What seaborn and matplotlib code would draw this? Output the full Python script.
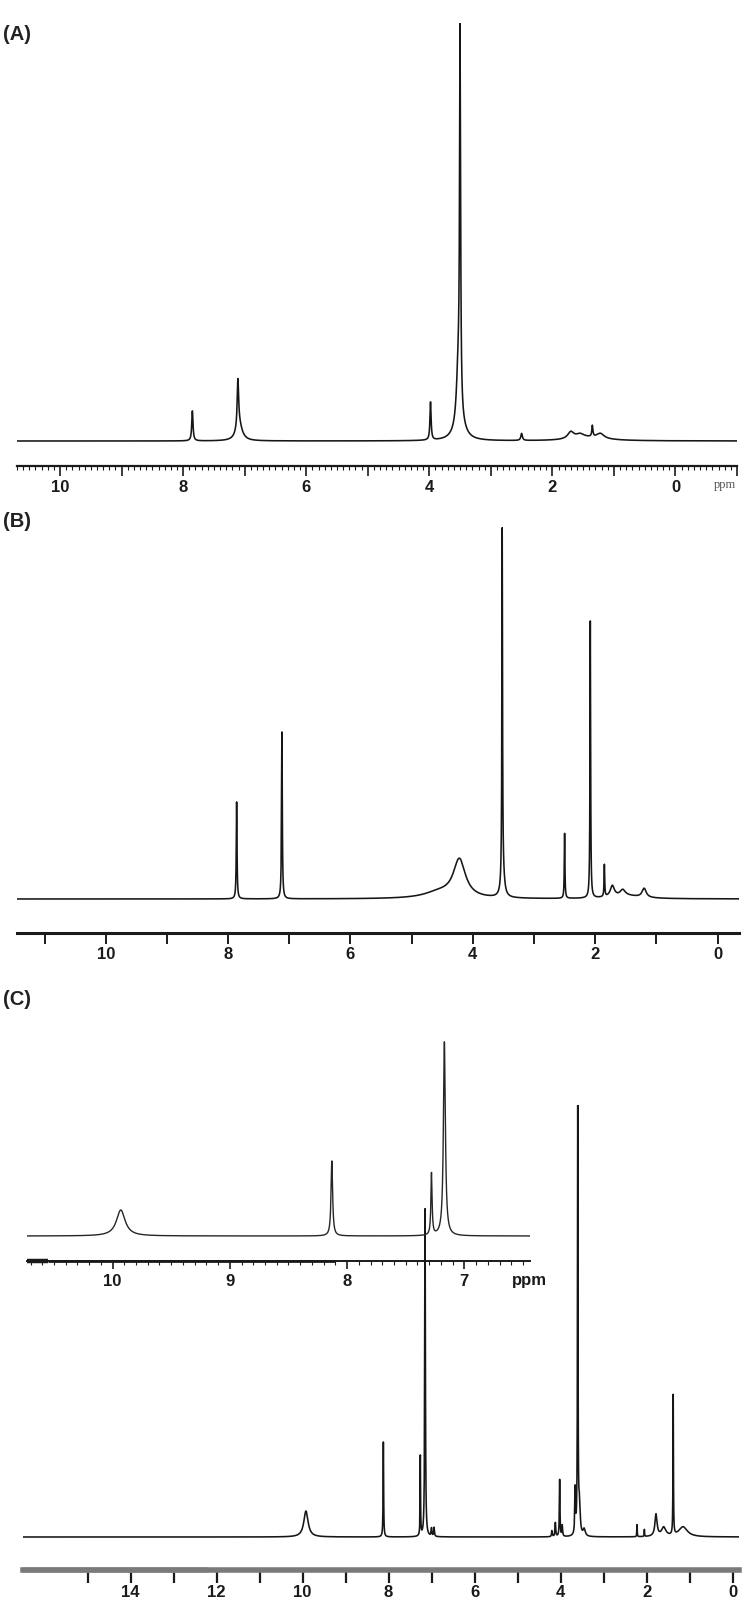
import numpy as np
import matplotlib
matplotlib.use('Agg')
import matplotlib.pyplot as plt
import seaborn as sns
from matplotlib.ticker import MultipleLocator, FixedLocator, FuncFormatter

sns.set_theme(style="white")
plt.rcParams['font.family'] = ['Liberation Sans', 'DejaVu Sans']

W, H = 744, 1620

# peak tables: shift (ppm), height above baseline, half width (ppm)
a_ppm = [7.85, 7.11, 7.09, 3.98, 3.50, 3.53, 3.50, 2.50, 1.70, 1.55, 1.35, 1.22, 1.40]
a_height = [30, 48, 16, 38, 372, 55, 14, 7, 7, 4, 11, 5, 3]
a_width = [0.012, 0.014, 0.06, 0.011, 0.010, 0.035, 0.10, 0.015, 0.06, 0.08, 0.010, 0.07, 0.35]

b_ppm = [7.86, 7.12, 4.22, 4.55, 3.52, 3.51, 2.50, 2.08, 1.85, 1.72, 1.55, 1.20, 1.50]
b_height = [97, 167, 38, 6, 349, 23, 65, 277, 32, 11, 6, 9, 3]
b_width = [0.007, 0.007, 0.12, 0.30, 0.006, 0.03, 0.006, 0.006, 0.006, 0.04, 0.05, 0.04, 0.30]

c_ppm = [9.92, 8.12, 7.26, 7.15, 7.00, 6.94, 4.20, 4.12, 4.02, 3.96, 3.66, 3.60,
         3.56, 3.45, 2.22, 2.05, 1.78, 1.60, 1.38, 1.15]
c_height = [26, 95, 80, 328, 8, 9, 6, 14, 57, 11, 45, 430, 30, 7, 12, 7, 22, 9, 140, 10]
c_width = [0.06, 0.007, 0.006, 0.009, 0.01, 0.01, 0.01, 0.01, 0.008, 0.01, 0.01, 0.007,
           0.02, 0.03, 0.005, 0.005, 0.03, 0.06, 0.006, 0.12]

inset_ppm = [9.93, 8.13, 7.28, 7.17]
inset_height = [26, 75, 62, 194]
inset_width = [0.045, 0.008, 0.006, 0.010]

a_lim = (10.7, -1.0)
b_lim = (11.45, -0.35)
c_lim = (16.5, -0.15)
inset_lim = (10.73, 6.44)
c_ticks = list(range(0, 16))


def spectrum(lim, ppm, height, width, n=24000):
    x = np.linspace(lim[1], lim[0], n)
    y = np.zeros_like(x)
    for p, h, w in zip(ppm, height, width):
        y += h / (1 + ((x - p) / w) ** 2)
    return x, y


def add_panel(fig, box, lim, ppm, height, width, lw=1.15, color='#161616'):
    # box: left, right, top, baseline, axis line (pixels from top-left)
    x0, x1, ytop, ybase, yaxis = box
    ax = fig.add_axes([x0 / W, 1 - yaxis / H, (x1 - x0) / W, (yaxis - ytop) / H])
    ax.patch.set_visible(False)
    x, y = spectrum(lim, ppm, height, width)
    sns.lineplot(x=x, y=y, ax=ax, color=color, linewidth=lw, estimator=None, sort=False)
    ax.set_xlim(*lim)
    ax.set_ylim(-(yaxis - ybase), ybase - ytop)
    for s in ['left', 'right', 'top']:
        ax.spines[s].set_visible(False)
    ax.set_yticks([])
    ax.set_xlabel('')
    ax.set_ylabel('')
    return ax


def even_labels(v, pos):
    r = round(v)
    if abs(v - r) < 1e-6 and r % 2 == 0:
        return f"{abs(r) if r == 0 else r}"
    return ''


def bold_ticks(ax, size=12):
    for lab in ax.get_xticklabels():
        lab.set_fontweight('bold')
        lab.set_fontsize(size)
        lab.set_color('#1a1a1a')


fig = plt.figure(figsize=(W / 100, H / 100), dpi=100)

# (A)
ax_a = add_panel(fig, (17, 737, 23, 441, 466), a_lim, a_ppm, a_height, a_width)
ax_a.spines['bottom'].set_linewidth(1.6)
ax_a.spines['bottom'].set_color('#1a1a1a')
ax_a.xaxis.set_major_locator(MultipleLocator(1))
ax_a.xaxis.set_minor_locator(MultipleLocator(0.1))
ax_a.xaxis.set_major_formatter(FuncFormatter(even_labels))
ax_a.tick_params(axis='x', which='major', direction='out', length=7, width=1.2,
                 color='#1a1a1a', pad=3, bottom=True)
ax_a.tick_params(axis='x', which='minor', direction='out', length=3, width=0.8,
                 color='#1a1a1a', bottom=True)
bold_ticks(ax_a)
fig.text(725 / W, 1 - 485 / H, 'ppm', fontsize=9, color='#555555',
         family=['Liberation Serif', 'DejaVu Serif'], ha='center', va='center')

# (B)
ax_b = add_panel(fig, (17, 739, 527, 899, 933), b_lim, b_ppm, b_height, b_width)
ax_b.spines['bottom'].set_linewidth(2.2)
ax_b.spines['bottom'].set_color('#1a1a1a')
ax_b.xaxis.set_major_locator(MultipleLocator(1))
ax_b.xaxis.set_major_formatter(FuncFormatter(even_labels))
ax_b.tick_params(axis='x', which='major', direction='out', length=8, width=1.4,
                 color='#1a1a1a', pad=2, bottom=True)
bold_ticks(ax_b)

# (C) full spectrum
ax_c = add_panel(fig, (23, 739, 1105, 1537, 1570), c_lim, c_ppm, c_height, c_width)
ax_c.spines['bottom'].set_linewidth(4)
ax_c.spines['bottom'].set_color('#7a7a7a')
ax_c.xaxis.set_major_locator(FixedLocator(c_ticks))
ax_c.xaxis.set_major_formatter(FuncFormatter(even_labels))
ax_c.tick_params(axis='x', which='major', direction='out', length=9, width=1.6,
                 color='#1a1a1a', pad=2, bottom=True)
bold_ticks(ax_c)
ax_c.plot([16.5, 12.2], [0, 0], transform=ax_c.get_xaxis_transform(), color='#ababab',
          lw=4, clip_on=False, solid_capstyle='butt')

# (C) inset
ax_i = add_panel(fig, (27, 530, 1040, 1236, 1261), inset_lim, inset_ppm, inset_height,
                 inset_width, lw=1.0, color='#262626')
ax_i.spines['bottom'].set_linewidth(1.4)
ax_i.spines['bottom'].set_color('#1a1a1a')
ax_i.xaxis.set_major_locator(MultipleLocator(1))
ax_i.xaxis.set_minor_locator(MultipleLocator(0.1))
ax_i.xaxis.set_major_formatter(FuncFormatter(lambda v, p: f"{v:.0f}"))
ax_i.tick_params(axis='x', which='major', direction='out', length=6, width=1.2,
                 color='#1a1a1a', pad=3, bottom=True)
ax_i.tick_params(axis='x', which='minor', direction='out', length=3, width=0.8,
                 color='#1a1a1a', bottom=True)
bold_ticks(ax_i)
ax_i.plot([10.55, 8.1], [0, 0], transform=ax_i.get_xaxis_transform(), color='#1a1a1a',
          lw=2.0, clip_on=False, solid_capstyle='butt')
ax_i.plot([10.73, 10.55], [0, 0], transform=ax_i.get_xaxis_transform(), color='#1a1a1a',
          lw=3.2, clip_on=False, solid_capstyle='butt')
fig.text(529 / W, 1 - 1280 / H, 'ppm', fontsize=12, fontweight='bold', color='#1a1a1a',
         ha='center', va='center')

for lab, ytxt in [('(A)', 25), ('(B)', 512), ('(C)', 990)]:
    fig.text(3 / W, 1 - ytxt / H, lab, fontsize=14.5, fontweight='bold', color='#222222',
             ha='left', va='top')

fig.savefig('out.png', dpi=100)
